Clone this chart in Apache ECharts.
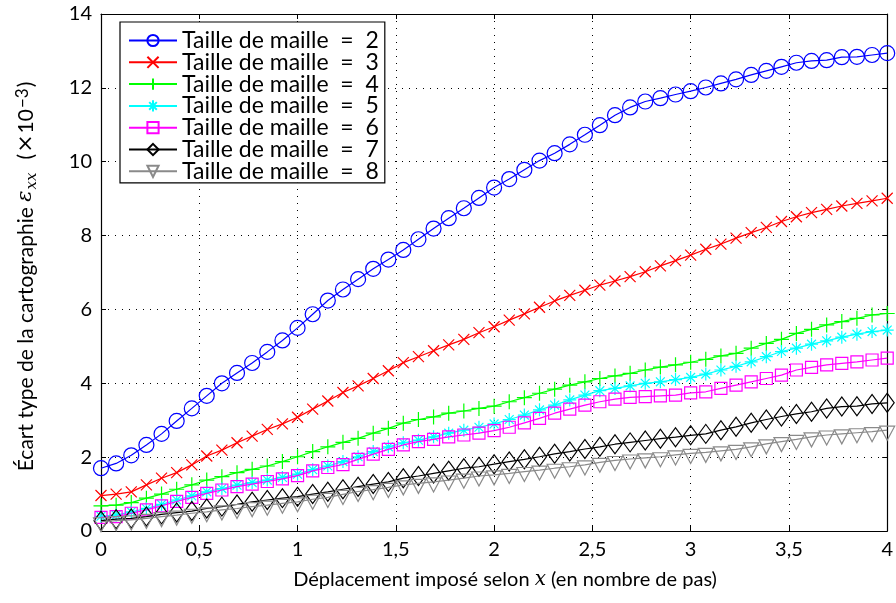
<!DOCTYPE html>
<html>
<head>
<meta charset="utf-8">
<script src="https://cdn.jsdelivr.net/npm/echarts@6/dist/echarts.min.js"></script>
<style>
html,body{margin:0;padding:0;background:#fff;}
#chart{width:896px;height:603px;}
</style>
</head>
<body>
<div id="chart"></div>
<script>
// x positions (déplacement imposé, en nombre de pas)
const xs = [0,0.077,0.154,0.231,0.308,0.385,0.462,0.538,0.615,0.692,0.769,0.846,0.923,1.0,1.077,1.154,1.231,1.308,1.385,1.462,1.538,1.615,1.692,1.769,1.846,1.923,2.0,2.077,2.154,2.231,2.308,2.385,2.462,2.538,2.615,2.692,2.769,2.846,2.923,3.0,3.077,3.154,3.231,3.308,3.385,3.462,3.538,3.615,3.692,3.769,3.846,3.923,4.0];

const maille2 = [1.70,1.83,2.05,2.33,2.63,2.98,3.32,3.66,4.00,4.28,4.55,4.85,5.16,5.50,5.87,6.24,6.54,6.82,7.10,7.35,7.61,7.90,8.19,8.47,8.74,9.02,9.30,9.53,9.78,10.03,10.23,10.47,10.73,10.99,11.26,11.47,11.63,11.72,11.82,11.91,12.01,12.12,12.23,12.35,12.46,12.57,12.68,12.73,12.75,12.83,12.84,12.89,12.94];
const maille3 = [0.96,1.00,1.06,1.25,1.43,1.58,1.79,2.03,2.19,2.39,2.57,2.75,2.90,3.08,3.30,3.52,3.75,3.93,4.13,4.34,4.56,4.72,4.88,5.04,5.19,5.37,5.53,5.71,5.88,6.06,6.23,6.38,6.52,6.66,6.77,6.89,7.02,7.18,7.32,7.47,7.63,7.77,7.93,8.08,8.22,8.38,8.51,8.62,8.71,8.80,8.87,8.94,9.01];
const maille4 = [0.68,0.70,0.77,0.89,1.00,1.13,1.25,1.38,1.47,1.58,1.67,1.76,1.88,2.01,2.15,2.28,2.40,2.51,2.65,2.78,2.92,3.02,3.09,3.19,3.25,3.32,3.38,3.50,3.61,3.73,3.84,3.95,4.04,4.13,4.20,4.27,4.36,4.44,4.50,4.57,4.65,4.74,4.81,4.95,5.08,5.19,5.35,5.46,5.58,5.67,5.76,5.85,5.89];
const maille5 = [0.40,0.43,0.52,0.61,0.72,0.84,0.95,1.06,1.15,1.24,1.31,1.38,1.45,1.54,1.66,1.76,1.88,2.01,2.15,2.28,2.39,2.46,2.55,2.65,2.73,2.81,2.90,3.02,3.14,3.28,3.41,3.55,3.68,3.80,3.86,3.93,4.00,4.04,4.10,4.16,4.25,4.36,4.46,4.58,4.72,4.86,4.95,5.06,5.15,5.25,5.33,5.40,5.44];
const maille6 = [0.37,0.39,0.48,0.57,0.68,0.80,0.91,1.02,1.11,1.20,1.27,1.34,1.41,1.50,1.63,1.72,1.80,1.94,2.08,2.21,2.33,2.42,2.48,2.55,2.60,2.65,2.72,2.81,2.93,3.05,3.19,3.30,3.41,3.50,3.57,3.62,3.64,3.66,3.68,3.74,3.77,3.86,3.95,4.04,4.13,4.22,4.36,4.43,4.50,4.54,4.58,4.63,4.68];
const maille7 = [0.28,0.32,0.34,0.39,0.45,0.50,0.54,0.61,0.66,0.72,0.79,0.84,0.89,0.93,1.00,1.06,1.13,1.20,1.27,1.33,1.43,1.49,1.56,1.63,1.70,1.74,1.81,1.88,1.94,2.01,2.09,2.15,2.22,2.28,2.35,2.40,2.45,2.50,2.54,2.59,2.63,2.73,2.82,2.93,3.02,3.10,3.17,3.23,3.32,3.37,3.38,3.44,3.47];
const maille8 = [0.25,0.28,0.30,0.34,0.39,0.43,0.48,0.52,0.57,0.61,0.66,0.70,0.75,0.79,0.86,0.91,0.99,1.07,1.12,1.18,1.25,1.29,1.33,1.38,1.43,1.49,1.52,1.56,1.61,1.65,1.70,1.74,1.79,1.86,1.91,1.95,1.98,2.01,2.06,2.10,2.13,2.17,2.21,2.28,2.36,2.42,2.48,2.55,2.60,2.63,2.66,2.69,2.73];

const seriesNames = ['Taille de maille  =  2','Taille de maille  =  3','Taille de maille  =  4','Taille de maille  =  5','Taille de maille  =  6','Taille de maille  =  7','Taille de maille  =  8'];
const seriesValues = [maille2, maille3, maille4, maille5, maille6, maille7, maille8];
const xTicks = [0, 0.5, 1, 1.5, 2, 2.5, 3, 3.5, 4];
const yTicks = [0, 2, 4, 6, 8, 10, 12, 14];

const colors = ['#0000ff','#ff0000','#00ff00','#00ffff','#ff00ff','#000000','#8a8a8a'];
const symbols = [
  'circle',
  'path://M0 0 L10 10 M10 0 L0 10',
  'path://M5 0 L5 10 M0 5 L10 5',
  'path://M5 0 L5 10 M0 5 L10 5 M1.6 1.6 L8.4 8.4 M8.4 1.6 L1.6 8.4',
  'rect',
  'path://M5 0 L10 7 L5 14 L0 7 Z',
  'path://M0 0 L12 0 L6 11 Z'
];
const symSizes = [15, 11, 15, 13, 12, [14, 19], [15, 14]];
const symOffsets = [[0,0],[0,0],[0,0],[0,0],[0,0],[0,0],[0,3]];

const FONT = 'Lato';

const chart = echarts.init(document.getElementById('chart'), null, {renderer: 'canvas'});

const series = seriesValues.map((vals, k) => ({
  name: seriesNames[k],
  type: 'line',
  data: vals.map((v, i) => [xs[i], v]),
  symbol: symbols[k],
  symbolSize: symSizes[k],
  symbolOffset: symOffsets[k],
  showAllSymbol: true,
  animation: false,
  lineStyle: {color: colors[k], width: 1.2},
  itemStyle: {color: 'rgba(0,0,0,0)', borderColor: colors[k], borderWidth: 1.2},
  emphasis: {disabled: true},
  z: 2 + k
}));

const fmt = v => String(v).replace('.', ',');

chart.setOption({
  backgroundColor: '#ffffff',
  animation: false,
  grid: {left: 101, top: 14, width: 787, height: 517, containLabel: false},
  legend: {
    show: true,
    orient: 'vertical',
    left: 120,
    top: 22,
    padding: [7, 6, 0, 8],
    itemWidth: 48,
    itemHeight: 14,
    itemGap: -1.2,
    backgroundColor: '#ffffff',
    borderColor: '#000000',
    borderWidth: 1.2,
    borderRadius: 0,
    textStyle: {fontFamily: FONT, fontSize: 23, color: '#000', lineHeight: 22.3},
    data: seriesNames
  },
  xAxis: [{
    type: 'value', min: 0, max: 4, interval: 0.5, position: 'bottom',
    axisLine: {show: true, onZero: false, lineStyle: {color: '#000', width: 1.2}},
    axisTick: {show: true, inside: true, length: 5, lineStyle: {color: '#000'}},
    axisLabel: {fontFamily: FONT, fontSize: 20, color: '#000', margin: 9, formatter: fmt},
    splitLine: {show: true, lineStyle: {color: '#000', width: 1, type: [1, 6]}},
    name: '{n|Déplacement imposé selon }{i|x}{n| (en nombre de pas)}',
    nameLocation: 'middle',
    nameGap: 39,
    nameTextStyle: {fontFamily: FONT, fontSize: 20, color: '#000', padding: [0, 0, 0, 22],
      rich: {n: {fontFamily: FONT, fontSize: 20, color: '#000'},
             i: {fontFamily: 'DejaVu Serif', fontStyle: 'italic', fontSize: 20, color: '#000'}}}
  }, {
    type: 'value', min: 0, max: 4, interval: 0.5, position: 'top',
    axisLine: {show: true, onZero: false, lineStyle: {color: '#000', width: 1.2}},
    axisTick: {show: true, inside: true, length: 5, lineStyle: {color: '#000'}},
    axisLabel: {show: false},
    splitLine: {show: false}
  }],
  yAxis: [{
    type: 'value', min: 0, max: 14, interval: 2, position: 'left',
    axisLine: {show: true, onZero: false, lineStyle: {color: '#000', width: 1.2}},
    axisTick: {show: true, inside: true, length: 5, lineStyle: {color: '#000'}},
    axisLabel: {fontFamily: FONT, fontSize: 20, color: '#000', margin: 9},
    splitLine: {show: true, lineStyle: {color: '#000', width: 1, type: [1, 6]}},
    name: '{n|Écart type de la cartographie }{e|ε}{s|xx}{n|\u2002\u2009(}{m|×}{n|10}{p|−3}{n|)}',
    nameLocation: 'middle',
    nameGap: 60,
    nameTextStyle: {fontFamily: FONT, fontSize: 21, color: '#000', padding: [0, 8, 0, 0],
      rich: {n: {fontFamily: FONT, fontSize: 21, color: '#000', lineHeight: 30},
             m: {fontFamily: 'DejaVu Sans', fontSize: 22, color: '#000', lineHeight: 30, padding: [0, 1, 0, 1]},
             e: {fontFamily: 'DejaVu Serif', fontStyle: 'italic', fontSize: 21, color: '#000', lineHeight: 30},
             s: {fontFamily: 'DejaVu Serif', fontStyle: 'italic', fontSize: 15, color: '#000', verticalAlign: 'bottom', lineHeight: 30, padding: [0,0,1,1]},
             p: {fontFamily: FONT, fontSize: 17, color: '#000', verticalAlign: 'top', lineHeight: 30, padding: [3,1,0,1]}}}
  }, {
    type: 'value', min: 0, max: 14, interval: 2, position: 'right',
    axisLine: {show: true, onZero: false, lineStyle: {color: '#000', width: 1.2}},
    axisTick: {show: true, inside: true, length: 5, lineStyle: {color: '#000'}},
    axisLabel: {show: false},
    splitLine: {show: false}
  }],
  series: series
});
</script>
</body>
</html>
